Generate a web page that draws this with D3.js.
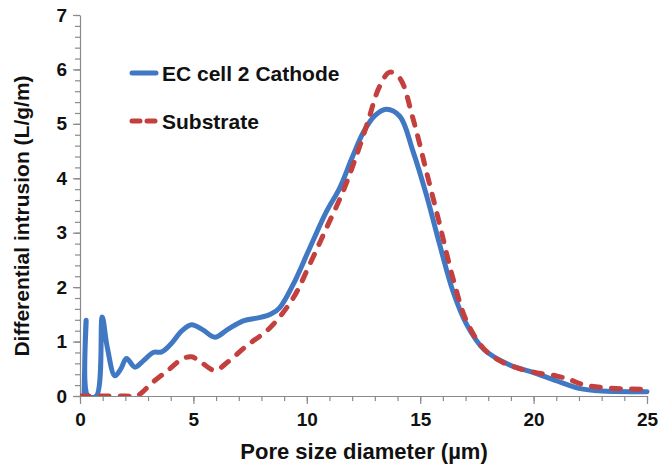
<!DOCTYPE html>
<html>
<head>
<meta charset="utf-8">
<script src="https://cdn.jsdelivr.net/npm/d3@7"></script>
<style>
  body { margin: 0; background: #fff; }
  text { font-family: "Liberation Sans", Arial, Helvetica, sans-serif; font-weight: bold; fill: #111; }
</style>
</head>
<body>
<div id="chart"></div>
<script>
// series names
const seriesNames = ["EC cell 2 Cathode", "Substrate"];

// EC cell 2 Cathode: pore size (µm) / differential intrusion
const cathodeX = [0.18, 0.27, 0.35, 0.72, 0.98, 1.2, 1.54, 1.8, 2.05, 2.42, 2.8, 3.23, 3.6, 4.0, 4.5, 4.92, 5.4, 5.95, 6.5, 7.2, 7.9, 8.4, 8.8, 9.4, 10.13, 10.87, 11.45, 12.0, 12.5, 13.0, 13.5, 14.1, 14.68, 15.27, 15.86, 16.44, 17.04, 17.8, 18.9, 20.0, 21.0, 22.0, 23.0, 25.0];
const cathodeY = [0, 1.39, 0, 0, 1.45, 0.9, 0.37, 0.5, 0.69, 0.53, 0.65, 0.8, 0.81, 0.95, 1.2, 1.31, 1.22, 1.08, 1.22, 1.38, 1.44, 1.5, 1.62, 2.05, 2.72, 3.39, 3.82, 4.38, 4.85, 5.15, 5.27, 5.14, 4.5, 3.7, 2.78, 1.93, 1.32, 0.86, 0.58, 0.43, 0.28, 0.14, 0.09, 0.08];

// Substrate
const substrateX = [0, 1.0, 2.0, 2.5, 3.2, 3.96, 4.5, 4.92, 5.4, 5.95, 6.5, 7.34, 8.37, 9.4, 10.13, 10.87, 11.6, 12.2, 12.7, 13.2, 13.66, 14.1, 14.68, 15.27, 15.86, 16.44, 17.04, 17.8, 18.5, 19.24, 20.1, 21.0, 21.6, 22.17, 23.2, 25.0];
const substrateY = [0, 0, 0, 0, 0.25, 0.5, 0.68, 0.72, 0.6, 0.47, 0.62, 0.92, 1.25, 1.8, 2.42, 3.09, 3.76, 4.43, 5.05, 5.68, 5.95, 5.84, 5.1, 4.13, 3.15, 2.17, 1.38, 0.87, 0.65, 0.52, 0.43, 0.37, 0.3, 0.21, 0.15, 0.12];

// tick labels
const xTicks = [0, 5, 10, 15, 20, 25];
const yTicks = [0, 1, 2, 3, 4, 5, 6, 7];

const W = 667, H = 467;
const margin = {top: 15, right: 20, bottom: 71, left: 80};
const width = W - margin.left - margin.right,
      height = H - margin.top - margin.bottom;

const svg = d3.select("#chart").append("svg")
    .attr("width", W)
    .attr("height", H);

const g = svg.append("g")
    .attr("transform", "translate(" + margin.left + "," + margin.top + ")");

const x = d3.scaleLinear().domain([0, 25]).range([0, width]);
const y = d3.scaleLinear().domain([0, 7]).range([height, 0]);

const axisColor = "#8a8a8a";

// minor ticks
g.append("g")
    .attr("transform", "translate(0," + height + ")")
    .call(d3.axisBottom(x).tickValues(d3.range(0, 26, 1)).tickSize(5).tickFormat(""))
    .call(a => a.select(".domain").remove());
g.append("g")
    .call(d3.axisLeft(y).tickValues(d3.range(0, 36).map(d => d / 5)).tickSize(5).tickFormat(""))
    .call(a => a.select(".domain").remove());

// major axes
const xAxis = g.append("g")
    .attr("transform", "translate(0," + height + ")")
    .call(d3.axisBottom(x).tickValues(xTicks).tickSize(8).tickSizeOuter(0).tickPadding(9).tickFormat(d3.format("d")));
const yAxis = g.append("g")
    .call(d3.axisLeft(y).tickValues(yTicks).tickSize(7).tickSizeOuter(0).tickPadding(6).tickFormat(d3.format("d")));

g.selectAll(".tick line, .domain").attr("stroke", axisColor).attr("stroke-width", 1.2);
xAxis.selectAll("text").style("font-size", "19px").attr("fill", "#111");
yAxis.selectAll("text").style("font-size", "19px").attr("fill", "#111");

// clip to plot area
svg.append("defs").append("clipPath").attr("id", "plot-clip")
    .append("rect").attr("x", 0).attr("y", -10).attr("width", width + 4).attr("height", height + 10);

const line = d3.line()
    .x(d => x(d[0]))
    .y(d => y(d[1]))
    .curve(d3.curveCatmullRom.alpha(0.5));

const cathode = d3.zip(cathodeX, cathodeY);
const substrate = d3.zip(substrateX, substrateY);

const plot = g.append("g").attr("clip-path", "url(#plot-clip)");

plot.append("path")
    .datum(cathode)
    .attr("d", line)
    .attr("fill", "none")
    .attr("stroke", "#4178c4")
    .attr("stroke-width", 5)
    .attr("stroke-linejoin", "round")
    .attr("stroke-linecap", "round");

plot.append("path")
    .datum(substrate)
    .attr("d", line)
    .attr("fill", "none")
    .attr("stroke", "#c3403f")
    .attr("stroke-width", 5)
    .attr("stroke-dasharray", "9,11")
    .attr("stroke-linecap", "round");

// legend
const legend = svg.append("g").attr("transform", "translate(130,73)");
const legendStyles = [
    {color: "#4178c4", dash: null},
    {color: "#c3403f", dash: "8,7"}
];
seriesNames.forEach(function (name, i) {
    const row = legend.append("g").attr("transform", "translate(0," + (i * 48) + ")");
    row.append("line")
        .attr("x1", 2).attr("x2", 26)
        .attr("stroke", legendStyles[i].color)
        .attr("stroke-width", 5)
        .attr("stroke-linecap", "round")
        .attr("stroke-dasharray", legendStyles[i].dash);
    row.append("text")
        .attr("x", 32)
        .attr("dy", "0.36em")
        .style("font-size", "21px")
        .text(name);
});

// axis titles
svg.append("text")
    .attr("x", 364)
    .attr("y", 459)
    .attr("text-anchor", "middle")
    .style("font-size", "22px")
    .text("Pore size diameter (µm)");

svg.append("text")
    .attr("transform", "translate(29," + 216 + ") rotate(-90)")
    .attr("text-anchor", "middle")
    .style("font-size", "21px")
    .text("Differential intrusion (L/g/m)");
</script>
</body>
</html>
